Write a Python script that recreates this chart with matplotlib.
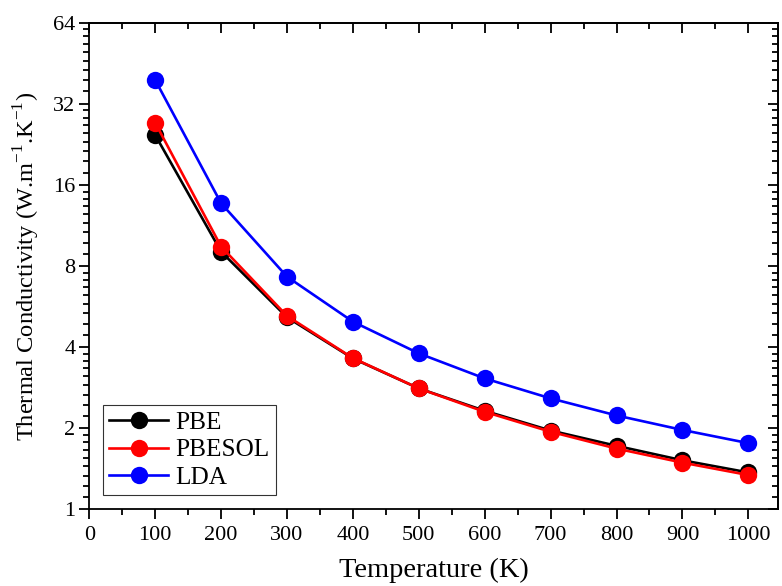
import numpy as np
import matplotlib
matplotlib.use('Agg')
import matplotlib.pyplot as plt
from matplotlib.ticker import LogLocator, FixedLocator, FixedFormatter, MultipleLocator, NullFormatter

# Thermal conductivity vs temperature for three functionals
temperature = [100, 200, 300, 400, 500, 600, 700, 800, 900, 1000]
kappa_pbe = [24.5, 9.04, 5.16, 3.63, 2.81, 2.32, 1.96, 1.72, 1.52, 1.37]
kappa_pbesol = [27.2, 9.44, 5.22, 3.64, 2.81, 2.30, 1.94, 1.68, 1.49, 1.34]
kappa_lda = [39.2, 13.67, 7.30, 4.97, 3.79, 3.06, 2.58, 2.23, 1.97, 1.76]

y_ticks = [1, 2, 4, 8, 16, 32, 64]

plt.rcParams['font.family'] = ['Liberation Serif', 'DejaVu Serif']
plt.rcParams['mathtext.fontset'] = 'custom'
plt.rcParams['mathtext.rm'] = 'Liberation Serif'

fig = plt.figure(figsize=(7.82, 5.86), dpi=100)
ax = fig.add_axes([0.1142, 0.1309, 0.8807, 0.8304])

# Draw series (PBESOL over PBE, LDA on top)
style = dict(lw=1.9, marker='o', ms=12.5, mew=0)
ax.plot(temperature, kappa_pbe, color='black', label='PBE', **style)
ax.plot(temperature, kappa_pbesol, color='red', label='PBESOL', **style)
ax.plot(temperature, kappa_lda, color='blue', label='LDA', **style)

# Log base-2 y axis
ax.set_yscale('log', base=2)
ax.set_ylim(1, 64)
ax.yaxis.set_major_locator(FixedLocator(y_ticks))
ax.yaxis.set_major_formatter(FixedFormatter([str(v) for v in y_ticks]))
ax.yaxis.set_minor_locator(LogLocator(base=2, subs=[1 + k / 9 for k in range(1, 9)]))
ax.yaxis.set_minor_formatter(NullFormatter())

ax.set_xlim(0, 1045)
ax.xaxis.set_major_locator(MultipleLocator(100))
ax.xaxis.set_minor_locator(MultipleLocator(50))

# Origin-style ticks: outward on left/bottom, mirrored ticks point inside
ax.tick_params(which='both', direction='out', top=False, right=False,
               width=1.3, labelsize=16, colors='black')
ax.tick_params(which='major', length=7)
ax.tick_params(which='minor', length=4)
ax.tick_params(axis='x', pad=5)
ax.tick_params(axis='y', pad=3)

sec_x = ax.secondary_xaxis('top')
sec_x.xaxis.set_major_locator(MultipleLocator(100))
sec_x.xaxis.set_minor_locator(MultipleLocator(50))
sec_x.tick_params(which='both', direction='in', width=1.3, labeltop=False)
sec_x.tick_params(which='major', length=7)
sec_x.tick_params(which='minor', length=4)

sec_y = ax.secondary_yaxis('right')
sec_y.set_yscale('log', base=2)
sec_y.yaxis.set_major_locator(FixedLocator(y_ticks))
sec_y.yaxis.set_minor_locator(LogLocator(base=2, subs=[1 + k / 9 for k in range(1, 9)]))
sec_y.tick_params(which='both', direction='in', width=1.3, labelright=False)
sec_y.tick_params(which='major', length=7)
sec_y.tick_params(which='minor', length=4)

for s in ax.spines.values():
    s.set_linewidth(1.3)
sec_x.spines['top'].set_linewidth(1.3)
sec_y.spines['right'].set_linewidth(1.3)

ax.set_xlabel('Temperature (K)', fontsize=20.5, labelpad=9)
ax.set_ylabel(r'Thermal Conductivity (W.m$^{-1}$.K$^{-1}$)', fontsize=17.6, labelpad=8)

leg = ax.legend(loc='lower left', bbox_to_anchor=(0.02, 0.029), borderaxespad=0,
                fontsize=18.2, fancybox=False, frameon=True, handlelength=2.33,
                labelspacing=0.19, handletextpad=0.28, borderpad=0.25)
leg.get_frame().set_edgecolor('black')
leg.get_frame().set_linewidth(0.8)

plt.savefig('out.png', dpi=100)
